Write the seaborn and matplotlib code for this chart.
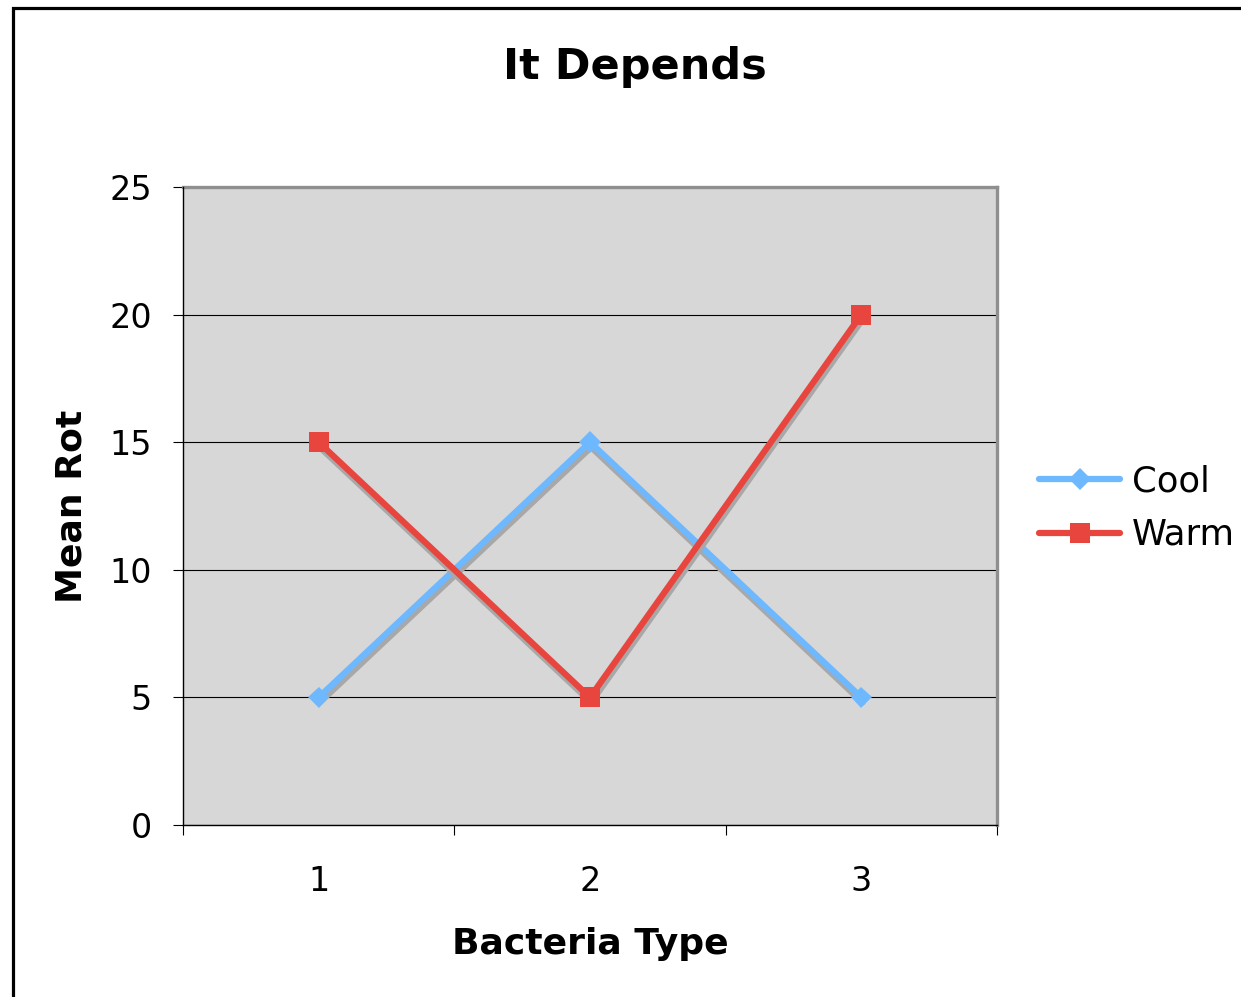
import matplotlib
matplotlib.use("Agg")
import matplotlib.pyplot as plt
import matplotlib.patheffects as pe
from matplotlib.patches import Rectangle
import seaborn as sns

# Data
bacteria = ["1", "2", "3"]
cool = [5, 15, 5]
warm = [15, 5, 20]
series_names = ["Cool", "Warm"]
y_ticks = [0, 5, 10, 15, 20, 25]

sns.set_style("white")
plt.rcParams['font.family'] = ['DejaVu Sans']
plt.rcParams['text.color'] = 'black'
plt.rcParams['axes.labelcolor'] = 'black'
plt.rcParams['xtick.color'] = 'black'
plt.rcParams['ytick.color'] = 'black'

fig = plt.figure(figsize=(12.41, 9.97), dpi=100)
ax = fig.add_axes([183 / 1241, 1 - 825 / 997, 814 / 1241, 638 / 997])
ax.set_facecolor('#d7d7d7')

styles = [
    dict(color='#6db8ff', marker='D', markersize=11),
    dict(color='#e8453e', marker='s', markersize=14.5),
]
for name, vals, st in zip(series_names, [cool, warm], styles):
    sns.lineplot(x=bacteria, y=vals, ax=ax, label=name, linewidth=4.5,
                 markeredgewidth=0, sort=False, **st)

shadow = [pe.SimpleLineShadow(offset=(0.8, -3.6), shadow_color='#a8a8a8', alpha=1.0, rho=1),
          pe.Normal()]
for line in ax.lines:
    line.set_path_effects(shadow)

# Axes ranges and ticks
ax.set_xlim(-0.5, 2.5)
ax.set_ylim(0, 25)
ax.set_yticks(y_ticks)
ax.yaxis.grid(True, color='black', linewidth=0.8)
ax.xaxis.grid(False)
ax.set_axisbelow(True)
ax.set_xticks([-0.5, 0.5, 1.5, 2.5], labels=[])
ax.set_xticks(range(len(bacteria)), labels=bacteria, minor=True)
ax.tick_params(axis='x', which='major', direction='out', length=7.5, width=0.8,
               color='black', bottom=True)
ax.tick_params(axis='x', which='minor', length=0, labelsize=24, pad=29, bottom=True)
ax.tick_params(axis='y', direction='out', length=7.5, width=0.8, color='black',
               labelsize=24, pad=15, left=True)

for side in ['top', 'right']:
    ax.spines[side].set_color('#8f8f8f')
    ax.spines[side].set_linewidth(2.4)
for side in ['left', 'bottom']:
    ax.spines[side].set_color('black')
    ax.spines[side].set_linewidth(1.0)
    ax.spines[side].set_zorder(5)

# Labels
ax.set_title("It Depends", fontsize=31, fontweight='bold',
             x=(635 - 183) / 814, y=(825 - 75) / 638, va='center')
ax.set_xlabel("Bacteria Type", fontsize=26, fontweight='bold')
ax.xaxis.set_label_coords(0.5, -(944 - 825) / 638)
ax.xaxis.label.set_va('center')
ax.set_ylabel("Mean Rot", fontsize=26, fontweight='bold')
ax.yaxis.set_label_coords((72 - 183) / 814, 0.5)
ax.yaxis.label.set_va('center')

leg = ax.legend(loc='center left', bbox_to_anchor=(1039 / 1241, 1 - 508 / 997),
                bbox_transform=fig.transFigure, frameon=False, fontsize=25.5,
                handlelength=2.3, handletextpad=0.32, labelspacing=0.56, borderpad=0,
                borderaxespad=0)
for line in leg.get_lines():
    line.set_path_effects([])

# Outer chart border
fig.patches.append(Rectangle((12.5 / 1241, -0.1), 1.2, 1.1 - 8.5 / 997,
                             transform=fig.transFigure, fill=False,
                             edgecolor='black', linewidth=2.3))

fig.savefig('out.png', dpi=100)
